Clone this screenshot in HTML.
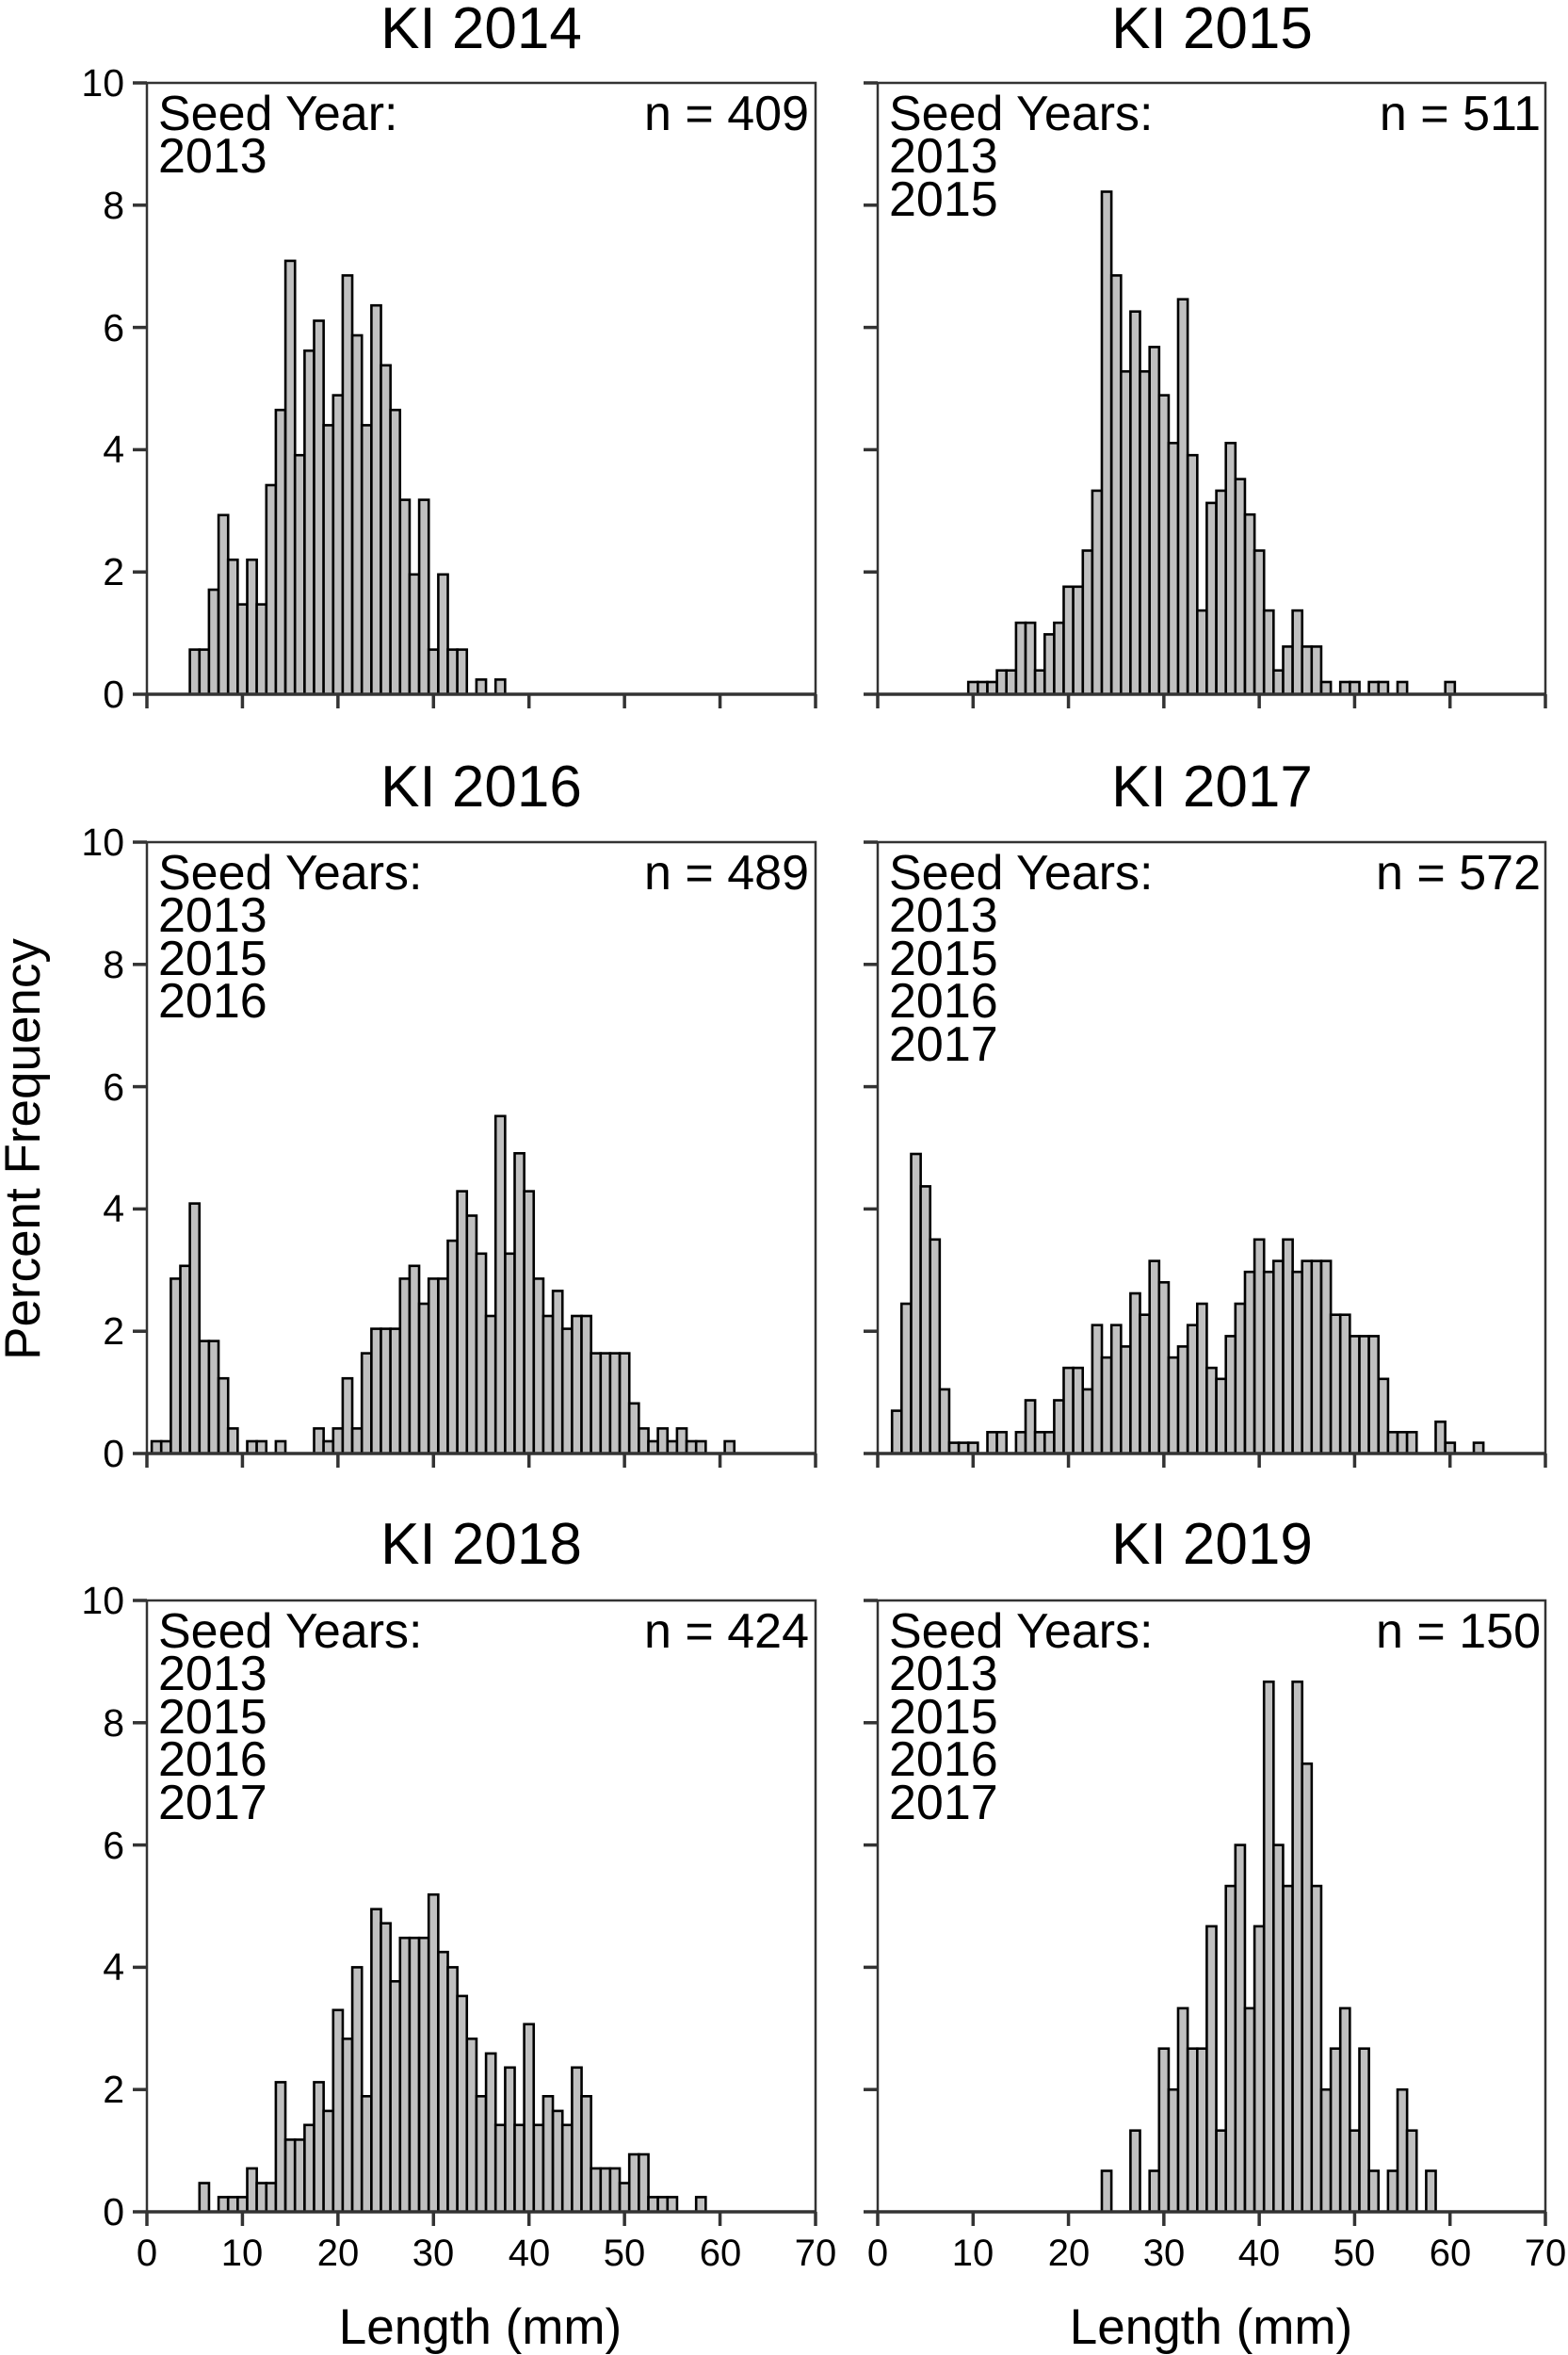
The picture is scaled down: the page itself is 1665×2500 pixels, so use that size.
<!DOCTYPE html>
<html><head><meta charset="utf-8"><style>
html,body{margin:0;padding:0;background:#fff;}
svg{display:block;font-family:"Liberation Sans",Arial,sans-serif;}
</style></head><body>
<svg id="s" width="1665" height="2500" viewBox="0 0 1665 2500" xmlns="http://www.w3.org/2000/svg">
<g id="bars"></g>
<g font-size="62" text-anchor="middle" fill="#000">
<text x="511" y="51">KI 2014</text><text x="1287" y="51">KI 2015</text>
<text x="511" y="856">KI 2016</text><text x="1287" y="856">KI 2017</text>
<text x="511" y="1660">KI 2018</text><text x="1287" y="1660">KI 2019</text>
</g>
<g font-size="41" text-anchor="end" fill="#000">
<text x="132" y="751">0</text><text x="132" y="621">2</text><text x="132" y="491">4</text><text x="132" y="362">6</text><text x="132" y="232">8</text><text x="132" y="102">10</text>
<text x="132" y="1557">0</text><text x="132" y="1427">2</text><text x="132" y="1297">4</text><text x="132" y="1168">6</text><text x="132" y="1038">8</text><text x="132" y="908">10</text>
<text x="132" y="2362">0</text><text x="132" y="2232">2</text><text x="132" y="2102">4</text><text x="132" y="1973">6</text><text x="132" y="1843">8</text><text x="132" y="1713">10</text>
</g>
<g font-size="40" text-anchor="middle" fill="#000">
<text x="156" y="2405">0</text><text x="257" y="2405">10</text><text x="359" y="2405">20</text><text x="460" y="2405">30</text><text x="562" y="2405">40</text><text x="663" y="2405">50</text><text x="765" y="2405">60</text><text x="866" y="2405">70</text>
<text x="932" y="2405">0</text><text x="1033" y="2405">10</text><text x="1135" y="2405">20</text><text x="1236" y="2405">30</text><text x="1337" y="2405">40</text><text x="1438" y="2405">50</text><text x="1540" y="2405">60</text><text x="1641" y="2405">70</text>
</g>
<g font-size="52" fill="#000">
<text x="168" y="138">Seed Year:</text><text x="168" y="183">2013</text>
<text x="859" y="138" text-anchor="end">n = 409</text>
<text x="944" y="138">Seed Years:</text><text x="944" y="183">2013</text><text x="944" y="229">2015</text>
<text x="1636" y="138" text-anchor="end">n = 511</text>
<text x="168" y="944">Seed Years:</text><text x="168" y="989">2013</text><text x="168" y="1035">2015</text><text x="168" y="1080">2016</text>
<text x="859" y="944" text-anchor="end">n = 489</text>
<text x="944" y="944">Seed Years:</text><text x="944" y="989">2013</text><text x="944" y="1035">2015</text><text x="944" y="1080">2016</text><text x="944" y="1126">2017</text>
<text x="1636" y="944" text-anchor="end">n = 572</text>
<text x="168" y="1749">Seed Years:</text><text x="168" y="1794">2013</text><text x="168" y="1840">2015</text><text x="168" y="1885">2016</text><text x="168" y="1931">2017</text>
<text x="859" y="1749" text-anchor="end">n = 424</text>
<text x="944" y="1749">Seed Years:</text><text x="944" y="1794">2013</text><text x="944" y="1840">2015</text><text x="944" y="1885">2016</text><text x="944" y="1931">2017</text>
<text x="1636" y="1749" text-anchor="end">n = 150</text>
</g>
<g font-size="53" text-anchor="middle" fill="#000">
<text x="510" y="2488">Length (mm)</text><text x="1286" y="2488">Length (mm)</text>
<text transform="translate(42,1220) rotate(-90)">Percent Frequency</text>
</g>
</svg>
<script>
var NS="http://www.w3.org/2000/svg",g=document.getElementById('bars');
function el(t,a){var e=document.createElementNS(NS,t);for(var k in a)e.setAttribute(k,a[k]);g.appendChild(e);return e;}
var P=[
[156,88,710,4.5,[0.73,0.73,1.71,2.93,2.2,1.47,2.2,1.47,3.42,4.65,7.09,3.91,5.62,6.11,4.4,4.89,6.85,5.87,4.4,6.36,5.38,4.65,3.18,1.96,3.18,0.73,1.96,0.73,0.73,0,0.24,0,0.24]],
[932,88,709,9.5,[0.2,0.2,0.2,0.39,0.39,1.17,1.17,0.39,0.98,1.17,1.76,1.76,2.35,3.33,8.22,6.85,5.28,6.26,5.28,5.68,4.89,4.11,6.46,3.91,1.37,3.13,3.33,4.11,3.52,2.94,2.35,1.37,0.39,0.78,1.37,0.78,0.78,0.2,0,0.2,0.2,0,0.2,0.2,0,0.2,0,0,0,0,0.2]],
[156,894,710,0.5,[0.2,0.2,2.86,3.07,4.09,1.84,1.84,1.23,0.41,0,0.2,0.2,0,0.2,0,0,0,0.41,0.2,0.41,1.23,0.41,1.64,2.04,2.04,2.04,2.86,3.07,2.45,2.86,2.86,3.48,4.29,3.89,3.27,2.25,5.52,3.27,4.91,4.29,2.86,2.25,2.66,2.04,2.25,2.25,1.64,1.64,1.64,1.64,0.82,0.41,0.2,0.41,0.2,0.41,0.2,0.2,0,0,0.2]],
[932,894,709,1.5,[0.7,2.45,4.9,4.37,3.5,1.05,0.175,0.175,0.175,0,0.35,0.35,0,0.35,0.87,0.35,0.35,0.87,1.4,1.4,1.05,2.1,1.57,2.1,1.75,2.62,2.27,3.15,2.8,1.57,1.75,2.1,2.45,1.4,1.22,1.92,2.45,2.97,3.5,2.97,3.15,3.5,2.97,3.15,3.15,3.15,2.27,2.27,1.92,1.92,1.92,1.22,0.35,0.35,0.35,0,0,0.52,0.175,0,0,0.175]],
[156,1699,710,5.5,[0.47,0,0.24,0.24,0.24,0.71,0.47,0.47,2.12,1.18,1.18,1.42,2.12,1.65,3.3,2.83,4.0,1.89,4.95,4.72,3.77,4.48,4.48,4.48,5.19,4.25,4.0,3.53,2.83,1.89,2.59,1.42,2.36,1.42,3.07,1.42,1.89,1.65,1.42,2.36,1.89,0.71,0.71,0.71,0.47,0.94,0.94,0.24,0.24,0.24,0,0,0.24]],
[932,1699,709,23.5,[0.67,0,0,1.33,0,0.67,2.67,2,3.33,2.67,2.67,4.67,1.33,5.33,6,3.33,4.67,8.67,6,5.33,8.67,7.33,5.33,2,2.67,3.33,1.33,2.67,0.67,0,0.67,2,1.33,0,0.67]]
];
P.forEach(function(p,i){
 var L=p[0],T=p[1],W=p[2],H=649,sx=W/70,sy=H/10,B=T+H;
 p[4].forEach(function(v,j){ if(v<=0)return;
  var x=L+(p[3]+j)*sx,h=v*sy;
  el('rect',{x:x.toFixed(1),y:(B-h).toFixed(1),width:sx.toFixed(2),height:h.toFixed(1),fill:'#c0c0c0',stroke:'#000','stroke-width':2.6});
 });
 el('rect',{x:L,y:T,width:W,height:H,fill:'none',stroke:'#333','stroke-width':2.5});
 el('line',{x1:L,y1:B,x2:L+W,y2:B,stroke:'#333','stroke-width':3.5});
 for(var k=0;k<=5;k++){var y=B-k*2*sy;el('line',{x1:L-15,y1:y,x2:L,y2:y,stroke:'#333','stroke-width':3.5});}
 for(var k=0;k<=7;k++){var x=L+k*10*sx;el('line',{x1:x,y1:B,x2:x,y2:B+15,stroke:'#333','stroke-width':3.5});}
});
</script>
</body></html>
